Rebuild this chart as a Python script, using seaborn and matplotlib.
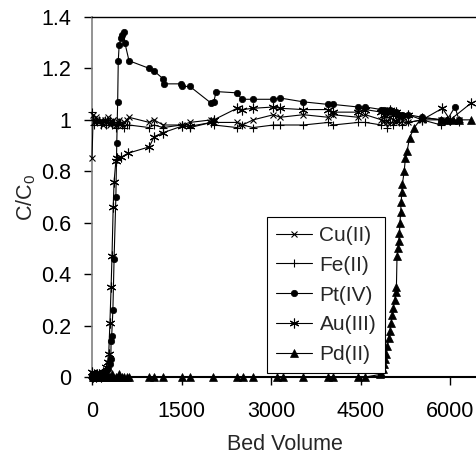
import matplotlib
matplotlib.use("Agg")
import matplotlib.pyplot as plt
import seaborn as sns

# Bed volumes (BV) and relative outlet concentrations C/C0 for each metal ion
cu_bv = [0, 20, 40, 60, 90, 120, 150, 180, 210, 240, 270, 300, 330, 360, 400, 430, 460, 500, 540, 580,
         620, 960, 1040, 1190, 1500, 1640, 2000, 2040, 2430, 2520, 2700, 3040, 3150, 3540, 3960, 4040,
         4460, 4580, 4850, 4900, 4950, 5000, 5050, 5100, 5150, 5200, 5300, 5530, 5850, 5950, 6150]
cu_c = [0.85, 1.02, 0.99, 1.01, 1.00, 0.99, 1.00, 0.98, 1.00, 0.99, 1.01, 0.98, 0.99, 1.00, 0.98, 0.99,
        1.00, 0.98, 0.99, 1.00, 1.01, 0.99, 1.00, 0.98, 0.98, 0.99, 1.00, 0.99, 0.99, 0.98, 1.00, 1.02,
        1.01, 1.02, 1.01, 1.02, 1.01, 1.02, 1.00, 1.02, 0.99, 1.01, 1.00, 0.99, 1.01, 1.00, 0.99, 1.00,
        1.00, 0.99, 1.00]

fe_bv = [0, 20, 40, 60, 90, 120, 150, 180, 210, 240, 270, 300, 330, 360, 400, 430, 460, 500, 540, 580,
         620, 960, 1040, 1190, 1500, 1640, 2000, 2040, 2430, 2520, 2700, 3040, 3150, 3540, 3960, 4040,
         4460, 4580, 4850, 4900, 4950, 5000, 5050, 5100, 5150, 5200, 5300, 5530, 5850, 5950, 6150]
fe_c = [1.03, 1.00, 0.98, 1.00, 0.99, 1.00, 0.98, 0.99, 1.00, 0.98, 0.99, 1.00, 0.98, 0.99, 0.97, 0.98,
        0.99, 0.98, 0.97, 0.98, 0.98, 0.97, 0.98, 0.97, 0.98, 0.97, 0.99, 0.98, 0.97, 0.98, 0.97, 0.98,
        0.98, 0.98, 0.99, 0.98, 0.99, 0.99, 0.98, 1.00, 0.97, 0.99, 0.98, 1.00, 0.99, 0.98, 0.99, 1.00,
        0.98, 1.00, 0.99]

pt_bv = [0, 20, 40, 60, 90, 120, 150, 180, 210, 240, 270, 300, 315, 320, 330, 350, 370, 400, 415, 430,
         440, 455, 485, 510, 535, 550, 620, 960, 1040, 1190, 1210, 1490, 1510, 1640, 1990, 2040, 2080,
         2430, 2510, 2700, 3040, 3150, 3540, 3960, 4040, 4460, 4580, 4850, 4900, 4950, 5000, 5050, 5100,
         5150, 5200, 5300, 5530, 5850, 5950, 6080, 6150]
pt_c = [0.00, 0.00, 0.01, 0.00, 0.01, 0.00, 0.01, 0.01, 0.02, 0.02, 0.03, 0.05, 0.07, 0.14, 0.16, 0.26,
        0.46, 0.70, 0.91, 1.07, 1.23, 1.29, 1.32, 1.33, 1.34, 1.30, 1.23, 1.20, 1.19, 1.16, 1.14, 1.14,
        1.13, 1.13, 1.066, 1.07, 1.11, 1.105, 1.08, 1.08, 1.08, 1.085, 1.07, 1.06, 1.06, 1.05, 1.05, 1.04,
        1.04, 1.03, 1.04, 1.03, 1.03, 1.02, 1.02, 1.02, 1.01, 1.00, 1.00, 1.05, 1.00]

au_bv = [0, 20, 40, 60, 90, 120, 150, 180, 210, 240, 260, 280, 300, 320, 335, 355, 370, 400, 420, 490,
         600, 960, 1040, 1190, 1500, 1640, 2000, 2040, 2430, 2520, 2700, 3040, 3150, 3540, 3960, 4040,
         4460, 4580, 4850, 4900, 4950, 5000, 5050, 5100, 5150, 5200, 5300, 5530, 5870, 6000, 6350]
au_c = [0.02, 0.00, 0.01, 0.00, 0.01, 0.01, 0.00, 0.02, 0.02, 0.04, 0.06, 0.09, 0.21, 0.35, 0.47, 0.66,
        0.76, 0.84, 0.85, 0.855, 0.87, 0.895, 0.935, 0.95, 0.975, 0.975, 0.99, 1.00, 1.045, 1.04, 1.045,
        1.05, 1.045, 1.04, 1.04, 1.03, 1.03, 1.04, 1.03, 1.02, 1.03, 1.04, 1.02, 1.03, 1.02, 1.01, 1.02,
        1.00, 1.045, 1.00, 1.065]

pd_bv = [0, 20, 40, 60, 90, 120, 150, 180, 210, 240, 270, 300, 330, 360, 400, 430, 460, 500, 540, 580,
         620, 960, 1040, 1190, 1500, 1640, 2030, 2430, 2530, 2700, 3100, 3200, 3540, 3960, 4040, 4460,
         4580, 4830, 4850, 4870, 4890, 4910, 4930, 4950, 4970, 4990, 5010, 5030, 5050, 5070, 5090, 5100,
         5110, 5130, 5140, 5150, 5160, 5170, 5180, 5190, 5200, 5230, 5250, 5280, 5320, 5400, 5530, 5850,
         5950, 6050, 6150, 6350]
pd_c = [0.01, 0.00, 0.00, 0.01, 0.00, 0.00, 0.01, 0.00, 0.00, 0.01, 0.00, 0.00, 0.01, 0.00, 0.00, 0.00,
        0.01, 0.00, 0.00, 0.00, 0.00, 0.00, 0.00, 0.00, 0.00, 0.00, 0.00, 0.00, 0.00, 0.00, 0.00, 0.00,
        0.00, 0.00, 0.00, 0.00, 0.00, 0.01, 0.015, 0.03, 0.05, 0.07, 0.09, 0.12, 0.15, 0.18, 0.21, 0.24,
        0.27, 0.30, 0.33, 0.35, 0.47, 0.50, 0.53, 0.56, 0.60, 0.64, 0.68, 0.72, 0.75, 0.80, 0.85, 0.88,
        0.93, 0.97, 1.01, 1.00, 1.00, 1.00, 1.00, 1.00]

x_ticks = [0, 1500, 3000, 4500, 6000]
y_ticks = [0, 0.2, 0.4, 0.6, 0.8, 1.0, 1.2, 1.4]
y_tick_labels = ["0", "0.2", "0.4", "0.6", "0.8", "1", "1.2", "1.4"]

sns.set_style("ticks")
plt.rcParams["font.family"] = ["Liberation Sans", "DejaVu Sans"]
plt.rcParams["mathtext.fontset"] = "custom"
plt.rcParams["mathtext.rm"] = "Liberation Sans"
plt.rcParams["mathtext.it"] = "Liberation Sans:italic"

fig = plt.figure(figsize=(4.77, 4.55), dpi=100)
ax = fig.add_axes([92 / 477, 1 - 377 / 455, (477 - 92) / 477, (377 - 17) / 455])

asterisk = (6, 2, 0)
series = [
    ("Cu(II)", cu_bv, cu_c, "x", 4.5, 0.8),
    ("Fe(II)", fe_bv, fe_c, "+", 6.0, 0.8),
    ("Pt(IV)", pt_bv, pt_c, "o", 4.6, 0.5),
    ("Au(III)", au_bv, au_c, asterisk, 7.0, 0.8),
    ("Pd(II)", pd_bv, pd_c, "^", 5.2, 0.5),
]
for name, bv, conc, mk, ms, mew in series:
    sns.lineplot(x=bv, y=conc, ax=ax, color="black", linewidth=0.8, marker=mk,
                 markersize=ms, markeredgewidth=mew, markeredgecolor="black",
                 markerfacecolor="black", estimator=None, sort=False, label=name,
                 clip_on=False, zorder=3)

ax.set_xlim(0, 6450)
ax.set_ylim(0, 1.4)
ax.set_xticks(x_ticks)
ax.set_xticklabels([str(t) for t in x_ticks])
ax.set_yticks(y_ticks)
ax.set_yticklabels(y_tick_labels)
ax.tick_params(axis="both", direction="out", length=6, width=1, color="black",
               labelsize=15.5, labelcolor="black")
ax.tick_params(axis="y", pad=9)
ax.tick_params(axis="x", pad=11)

ax.set_xlabel("Bed Volume", fontsize=15.5, labelpad=9)
ax.set_ylabel(r"C/C$_\mathregular{0}$", fontsize=15.5, labelpad=2)

ax.spines["right"].set_visible(False)
ax.spines["top"].set_color("black")
ax.spines["top"].set_linewidth(1.0)
ax.spines["bottom"].set_color("black")
ax.spines["bottom"].set_linewidth(1.5)
ax.spines["left"].set_color("#808080")
ax.spines["left"].set_linewidth(1.2)

leg = ax.legend(loc="lower left", bbox_to_anchor=(0.4545, 0.011), borderaxespad=0,
                frameon=True, fancybox=False, edgecolor="black", framealpha=1,
                fontsize=15, handlelength=1.75, handletextpad=0.35, labelspacing=0.52,
                borderpad=0.42)
leg.get_frame().set_linewidth(0.8)

fig.savefig("out.png", dpi=100)
